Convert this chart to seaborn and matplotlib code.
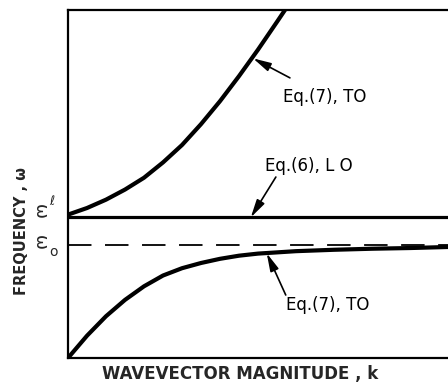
import matplotlib
matplotlib.use("Agg")
import matplotlib.pyplot as plt
import seaborn as sns
import pandas as pd

# ---- data (arbitrary units, axes span 0..10) ----
k_upper = [0.00, 0.50, 1.00, 1.50, 2.00, 2.50, 3.00, 3.50, 4.00, 4.50, 5.00, 5.50, 5.71]
w_upper = [4.12, 4.31, 4.55, 4.84, 5.18, 5.62, 6.12, 6.72, 7.38, 8.10, 8.86, 9.66, 10.0]

k_lower = [0.00, 0.50, 1.00, 1.50, 2.00, 2.50, 3.00, 3.50, 4.00, 4.50, 5.00, 6.00, 7.00, 8.00, 9.00, 10.0]
w_lower = [0.00, 0.64, 1.20, 1.67, 2.06, 2.37, 2.58, 2.73, 2.85, 2.94, 3.00, 3.07, 3.11, 3.14, 3.16, 3.19]

k_range = [0.0, 10.0]
w_lo = 4.04      # omega_l  (Eq. 6, LO)
w_to = 3.25      # omega_o  (dashed asymptote)

labels = ["Eq.(7), TO", "Eq.(6), L O", "Eq.(7), TO"]
label_xy = [(5.66, 7.50), (5.18, 5.52), (5.74, 1.52)]
arrow_tail = [(5.84, 8.05), (5.47, 5.20), (5.73, 1.81)]
arrow_tip = [(4.87, 8.61), (4.81, 4.04), (5.23, 3.01)]

xlabel = "WAVEVECTOR MAGNITUDE , k"
ylabel = "FREQUENCY , ω"

# ---- figure ----
sns.set_style("white")
plt.rcParams["font.family"] = ["DejaVu Sans"]

fig = plt.figure(figsize=(4.48, 3.86), dpi=100)
ax = fig.add_axes([68 / 448, 28 / 386, 380 / 448, 348 / 386])

df_up = pd.DataFrame({"k": k_upper, "w": w_upper})
df_dn = pd.DataFrame({"k": k_lower, "w": w_lower})
df_lo = pd.DataFrame({"k": k_range, "w": [w_lo, w_lo]})
df_to = pd.DataFrame({"k": k_range, "w": [w_to, w_to]})

sns.lineplot(data=df_to, x="k", y="w", ax=ax, color="black", lw=1.3,
             linestyle=(0, (13, 7.5)), sort=False, estimator=None)
sns.lineplot(data=df_lo, x="k", y="w", ax=ax, color="black", lw=2.3,
             sort=False, estimator=None)
sns.lineplot(data=df_up, x="k", y="w", ax=ax, color="black", lw=3.0,
             sort=False, estimator=None, solid_capstyle="round",
             solid_joinstyle="round")
sns.lineplot(data=df_dn, x="k", y="w", ax=ax, color="black", lw=3.0,
             sort=False, estimator=None, solid_capstyle="round",
             solid_joinstyle="round")

ax.set_xlim(0, 10)
ax.set_ylim(0, 10)
ax.set_xticks([])
ax.set_yticks([])
ax.set_xlabel("")
ax.set_ylabel("")
for side in ["left", "bottom", "top"]:
    ax.spines[side].set_color("black")
    ax.spines[side].set_linewidth(1.6)
ax.spines["right"].set_visible(False)

# annotations with arrows
for txt, (tx, ty), tail, tip in zip(labels, label_xy, arrow_tail, arrow_tip):
    ax.text(tx, ty, txt, fontsize=12, ha="left", va="center", color="black")
    ax.annotate("", xy=tip, xytext=tail,
                arrowprops=dict(arrowstyle="-|>,head_length=0.9,head_width=0.22",
                                color="black", lw=1.2, shrinkA=0, shrinkB=0,
                                mutation_scale=12))

# level labels on the frequency axis
ax.annotate("ω", xy=(0, w_lo), xytext=(-28, 6), textcoords="offset pixels",
            rotation=-90, ha="center", va="center", fontsize=13, annotation_clip=False)
ax.annotate("ℓ", xy=(0, w_lo), xytext=(-16, 16), textcoords="offset pixels",
            ha="center", va="center", fontsize=9, annotation_clip=False)
ax.annotate("ω", xy=(0, w_to), xytext=(-28, 2), textcoords="offset pixels",
            rotation=-90, ha="center", va="center", fontsize=13, annotation_clip=False)
ax.annotate("o", xy=(0, w_to), xytext=(-15, -7), textcoords="offset pixels",
            ha="center", va="center", fontsize=10, annotation_clip=False)

fig.text(240 / 448, 1 - 374 / 386, xlabel, ha="center", va="center",
         fontsize=12, fontweight="bold")
fig.text(21 / 448, 1 - 231 / 386, ylabel, ha="center", va="center",
         rotation=90, fontsize=10.5, fontweight="bold")

fig.savefig("out.png", dpi=100)
